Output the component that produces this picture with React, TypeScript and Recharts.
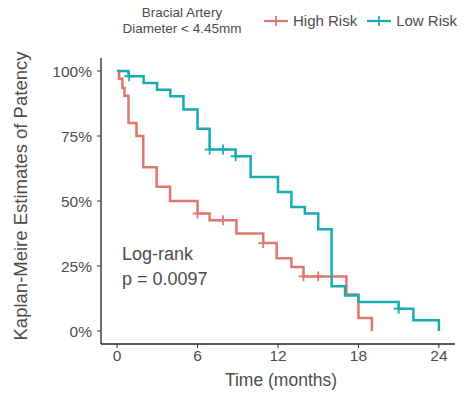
import React from 'react';
import { ComposedChart, Line, Scatter, XAxis, YAxis } from 'recharts';

// Kaplan-Meier step points (time in months, survival fraction)
const highRiskTime = [0, 0.15, 0.4, 0.55, 0.85, 1.45, 1.95, 2.95, 3.95, 6.0, 6.9, 8.9, 10.9, 11.9, 13.0, 13.9, 17.1, 18.0, 19.0];
const highRiskSurv = [1, 0.97, 0.935, 0.905, 0.8, 0.75, 0.63, 0.555, 0.5, 0.452, 0.426, 0.375, 0.338, 0.28, 0.246, 0.21, 0.14, 0.05, 0];

const lowRiskTime = [0, 0.85, 1.98, 2.98, 3.97, 4.95, 6.0, 6.9, 8.84, 9.96, 12.0, 13.0, 14.0, 15.0, 16.0, 17.0, 18.0, 21.0, 22.1, 24.0];
const lowRiskSurv = [1, 0.98, 0.954, 0.928, 0.903, 0.852, 0.778, 0.698, 0.672, 0.592, 0.535, 0.477, 0.452, 0.391, 0.172, 0.137, 0.112, 0.086, 0.041, 0];

// censored observations
const highCensorTime = [6.0, 7.9, 10.9, 13.9, 15.0];
const highCensorSurv = [0.452, 0.426, 0.338, 0.21, 0.21];
const lowCensorTime = [0.9, 6.9, 7.9, 8.84, 21.0];
const lowCensorSurv = [0.98, 0.698, 0.698, 0.672, 0.086];

const xTicks = [0, 6, 12, 18, 24];
const yTicks = [0, 0.25, 0.5, 0.75, 1];

const HIGH_COLOR = '#E0776D';
const LOW_COLOR = '#17ADAE';
const TEXT_COLOR = '#4D4D4D';
const FONT = '"Liberation Sans", Arial, sans-serif';

const toPoints = (ts: number[], ss: number[]) => ts.map((t, i) => ({ t, s: ss[i] }));

const highRisk = toPoints(highRiskTime, highRiskSurv);
const lowRisk = toPoints(lowRiskTime, lowRiskSurv);
const highCensor = toPoints(highCensorTime, highCensorSurv);
const lowCensor = toPoints(lowCensorTime, lowCensorSurv);

// eslint-disable-next-line @typescript-eslint/no-explicit-any
function Cross(color: string) {
  return (props: any) => {
    const { cx, cy } = props;
    if (cx == null || cy == null) return null;
    const h = 5;
    return (
      <g stroke={color} strokeWidth={1.8}>
        <line x1={cx - h} y1={cy} x2={cx + h} y2={cy} />
        <line x1={cx} y1={cy - h} x2={cx} y2={cy + h} />
      </g>
    );
  };
}

function LegendKey({ color }: { color: string }) {
  return (
    <svg width={24} height={12} style={{ display: 'block' }}>
      <line x1={0} y1={6} x2={24} y2={6} stroke={color} strokeWidth={2.2} />
      <line x1={12} y1={1} x2={12} y2={11} stroke={color} strokeWidth={1.8} />
    </svg>
  );
}

export default function App() {
  const abs = (style: React.CSSProperties): React.CSSProperties => ({
    position: 'absolute',
    whiteSpace: 'nowrap',
    color: TEXT_COLOR,
    fontFamily: FONT,
    ...style,
  });

  const tickStyle = { fontSize: 15.5, fill: TEXT_COLOR, fontFamily: FONT };

  return (
    <div style={{ position: 'absolute', left: 0, top: 0, width: 465, height: 394, background: '#fff' }}>
      <ComposedChart width={465} height={394} margin={{ top: 58, right: 10, bottom: 20, left: 0 }}>
        <XAxis
          type="number"
          dataKey="t"
          domain={[-1.2, 25.2]}
          ticks={xTicks}
          allowDataOverflow
          height={30}
          tickSize={4}
          tickMargin={2}
          axisLine={{ stroke: '#222', strokeWidth: 1.3 }}
          tickLine={{ stroke: '#333' }}
          tick={tickStyle}
        />
        <YAxis
          type="number"
          dataKey="s"
          domain={[-0.05, 1.05]}
          ticks={yTicks}
          allowDataOverflow
          width={101}
          tickSize={4}
          tickMargin={5}
          tickFormatter={(v: number) => `${Math.round(v * 100)}%`}
          axisLine={{ stroke: '#222', strokeWidth: 1.3 }}
          tickLine={{ stroke: '#333' }}
          tick={tickStyle}
        />
        <Line
          data={highRisk}
          dataKey="s"
          type="stepAfter"
          stroke={HIGH_COLOR}
          strokeWidth={2.5}
          dot={false}
          activeDot={false}
          isAnimationActive={false}
        />
        <Line
          data={lowRisk}
          dataKey="s"
          type="stepAfter"
          stroke={LOW_COLOR}
          strokeWidth={2.5}
          dot={false}
          activeDot={false}
          isAnimationActive={false}
        />
        <Scatter data={highCensor} dataKey="s" shape={Cross(HIGH_COLOR)} isAnimationActive={false} />
        <Scatter data={lowCensor} dataKey="s" shape={Cross(LOW_COLOR)} isAnimationActive={false} />
      </ComposedChart>

      {/* legend */}
      <div style={abs({ left: 182, top: 5, transform: 'translateX(-50%)', textAlign: 'center', fontSize: 13.5, lineHeight: '16px' })}>
        Bracial Artery
        <br />
        Diameter &lt; 4.45mm
      </div>
      <div style={abs({ left: 264, top: 12, display: 'flex', alignItems: 'center', gap: 5, fontSize: 15 })}>
        <LegendKey color={HIGH_COLOR} />
        <span>High Risk</span>
        <span style={{ width: 0 }} />
        <LegendKey color={LOW_COLOR} />
        <span>Low Risk</span>
      </div>

      {/* axis titles */}
      <div style={abs({ left: 21, top: 196, transform: 'translate(-50%, -50%) rotate(-90deg)', fontSize: 18.5 })}>
        Kaplan-Meire Estimates of Patency
      </div>
      <div style={abs({ left: 281, top: 380, transform: 'translate(-50%, -50%)', fontSize: 17.5 })}>
        Time (months)
      </div>

      {/* annotation */}
      <div style={abs({ left: 122, top: 242, fontSize: 18, lineHeight: '25px' })}>
        Log-rank
        <br />
        p = 0.0097
      </div>
    </div>
  );
}
